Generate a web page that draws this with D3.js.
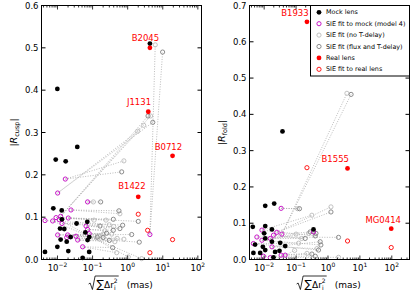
<!DOCTYPE html>
<html lang="en">
<head>
<meta charset="UTF-8">
<title>Flux ratio anomalies</title>
<script src="https://d3js.org/d3.v7.min.js"></script>
<style>
  body { margin: 0; background: #fff; }
  text { font-family: "DejaVu Sans", sans-serif; }
</style>
</head>
<body>
<script>
// ---- cusp panel (left) ----
const cuspMock = [[0.0099,0.403],[0.0366,0.266],[4.3,0.51],[0.0089,0.236],[0.0171,0.232],
  [0.0076,0.121],[0.0132,0.116],[0.0134,0.095],[0.035,0.085],[0.0706,0.089],[0.0118,0.073],
  [0.0156,0.072],[0.062,0.064],[0.0238,0.053],[0.0123,0.047],[0.0183,0.042],[0.072,0.046],
  [0.0805,0.053],[0.0099,0.030],[0.0044,0.018],[0.0203,0.020],[0.080,0.018],[0.052,0.004]]
const cuspModel4 = [[4.3,0.059],[0.0123,0.102],[0.0101,0.157],[0.0167,0.190],[0.072,0.136],
  [0.0242,0.117],[0.0203,0.098],[0.0091,0.099],[0.0044,0.092],[0.0134,0.085],[0.065,0.079],
  [0.072,0.071],[0.0101,0.058],[0.0195,0.058],[0.0336,0.055],[0.0183,0.052],[0.0376,0.046],
  [0.0805,0.061],[0.052,0.030],[0.0112,0.094],[0.0073,0.091]]
// third value = index of the model-4 fit it is joined to
const cuspNoDelay = [[6.1,0.507,0],[4.5,0.339,1],[2.86,0.317,1],[1.93,0.303,2],[0.78,0.233,3],
  [0.105,0.136,4],[0.60,0.108,5],[0.241,0.093,6],[0.11,0.093,7],[0.30,0.082,9],[0.40,0.078,10],
  [0.225,0.068,11],[0.20,0.060,12],[0.15,0.055,13],[0.50,0.050,14],[0.78,0.048,15],
  [0.43,0.042,16],[0.35,0.060,17],[0.485,0.016,18],[1.04,0.006,19],[2.5,0.002,20]]
const cuspFluxDelay = [[9.9,0.49,0],[3.8,0.339,1],[5.2,0.324,2],[0.674,0.207,3],[0.17,0.136,4],
  [0.565,0.115,5],[2.0,0.090,6],[0.39,0.095,7],[0.72,0.081,8],[0.163,0.079,9],[0.60,0.073,10],
  [0.39,0.069,11],[1.3,0.059,12],[0.20,0.052,13],[0.136,0.053,14],[2.14,0.041,15],
  [0.30,0.045,16],[0.25,0.062,17],[0.373,0.028,18]]
const cuspReal = [[4.3,0.50],[3.86,0.349],[19,0.245],[2.0,0.148]]
const cuspRealFit = [[2.0,0.107],[3.7,0.069],[19,0.047],[4.3,0.016]]
// name, label centre (data coords)
const cuspNames = [['B2045',3.21,0.523],['J1131',2.10,0.372],['B0712',14.5,0.266],['B1422',1.32,0.173]]

// ---- fold panel (right) ----
const foldMock = [[0.0375,0.353],[0.0108,0.148],[0.0206,0.154],[0.0044,0.090],[0.0108,0.092],
  [0.0175,0.083],[0.010,0.072],[0.0052,0.041],[0.0108,0.058],[0.0175,0.049],[0.0318,0.046],
  [0.0456,0.037],[0.0046,0.018],[0.0075,0.018],[0.0108,0.026],[0.022,0.021],[0.0302,0.024],
  [0.0196,0.006],[0.352,0.083],[0.0091,0.035]]
const foldModel4 = [[0.036,0.070],[0.034,0.141],[0.025,0.075],[0.0059,0.062],[0.0175,0.035],
  [0.0085,0.081],[0.0155,0.058],[0.0196,0.067],[0.0046,0.044],[0.0095,0.009],[0.0155,0.005],
  [0.034,0.012],[0.0085,0.053],[0.352,0.076],[0.0456,0.012]]
const foldNoDelay = [[3.92,0.458,0],[0.111,0.140,1],[1.24,0.145,2],[0.313,0.122,5],
  [0.22,0.017,11],[2.14,0.006,10],[0.15,0.058,7],[0.25,0.072,12],[0.12,0.045,8],
  [0.45,0.030,4],[0.09,0.025,14],[0.10,0.070,6]]
const foldFluxDelay = [[5.3,0.455,0],[0.128,0.140,1],[1.24,0.131,2],[2.14,0.061,3],
  [0.57,0.049,4],[0.40,0.065,5],[0.277,0.076,7],[0.193,0.058,6],[0.505,0.026,8],
  [0.40,0.009,9],[0.313,0.015,11],[0.42,0.072,13],[0.6,0.040,12]]
const foldReal = [[0.219,0.655],[4.1,0.251],[96,0.085]]
const foldRealFit = [[0.219,0.253],[4.1,0.051],[96,0.033]]
const foldNames = [['B1933',0.092,0.678],['B1555',1.69,0.276],['MG0414',53.8,0.108]]

const legendLabels = ['Mock lens', 'SIE fit to mock (model 4)', 'SIE fit (no T-delay)',
  'SIE fit (flux and T-delay)', 'Real lens', 'SIE fit to real lens']

const MAG = '#c000c0', LIGHT = '#bbbbbb', DARK = '#808080', RED = '#ff0000'

const svg = d3.select('body').append('svg')
  .attr('width', 419).attr('height', 296)

function drawPanel(p) {
  const g = svg.append('g')
  const x = d3.scaleLog().domain(p.xdom).range([p.left, p.left + 160])
  const y = d3.scaleLinear().domain([0, p.ymax]).range([259.5, 5.5])

  // dotted links between fits of the same mock
  const links = p.noDelay.concat(p.fluxDelay)
  g.selectAll('line.link').data(links).enter().append('line')
    .attr('x1', d => x(p.model4[d[2]][0])).attr('y1', d => y(p.model4[d[2]][1]))
    .attr('x2', d => x(d[0])).attr('y2', d => y(d[1]))
    .attr('stroke', '#aaa').attr('stroke-width', 0.8).attr('stroke-dasharray', '1,1.5')

  const open = (data, col) => g.append('g').selectAll('circle').data(data).enter().append('circle')
    .attr('cx', d => x(d[0])).attr('cy', d => y(d[1])).attr('r', 2.1)
    .attr('fill', 'none').attr('stroke', col).attr('stroke-width', 0.9)
  const filled = (data, col) => g.append('g').selectAll('circle').data(data).enter().append('circle')
    .attr('cx', d => x(d[0])).attr('cy', d => y(d[1])).attr('r', 2.4).attr('fill', col)

  open(p.noDelay, LIGHT)
  open(p.fluxDelay, DARK)
  open(p.model4, MAG)
  filled(p.mock, '#000')
  open(p.realFit, RED)
  filled(p.real, RED)

  g.selectAll('text.name').data(p.names).enter().append('text')
    .attr('x', d => x(d[1])).attr('y', d => y(d[2]))
    .attr('text-anchor', 'middle').attr('dominant-baseline', 'central')
    .attr('font-size', 8.5).attr('fill', RED).text(d => d[0])

  // frame
  g.append('rect').attr('x', p.left).attr('y', 5.5).attr('width', 160).attr('height', 254)
    .attr('fill', 'none').attr('stroke', '#000').attr('stroke-width', 1)

  // y ticks
  const yt = d3.range(0, p.ymax + 0.001, 0.1)
  yt.forEach(v => {
    const yy = y(v)
    g.append('line').attr('x1', p.left).attr('x2', p.left + 4).attr('y1', yy).attr('y2', yy).attr('stroke', '#000')
    g.append('line').attr('x1', p.left + 160).attr('x2', p.left + 156).attr('y1', yy).attr('y2', yy).attr('stroke', '#000')
    g.append('text').attr('x', p.left - 3).attr('y', yy).attr('text-anchor', 'end')
      .attr('dominant-baseline', 'central').attr('font-size', 8.5).text(d3.format('.1f')(v))
  })

  // x ticks (log)
  const lo = Math.floor(Math.log10(p.xdom[0])), hi = Math.ceil(Math.log10(p.xdom[1]))
  for (let k = lo; k <= hi; k++) {
    for (let m = 1; m < 10; m++) {
      const v = m * Math.pow(10, k)
      if (v < p.xdom[0] || v > p.xdom[1]) continue
      const xx = x(v), len = m === 1 ? 4 : 2
      g.append('line').attr('x1', xx).attr('x2', xx).attr('y1', 259.5).attr('y2', 259.5 - len).attr('stroke', '#000').attr('stroke-width', 0.8)
      g.append('line').attr('x1', xx).attr('x2', xx).attr('y1', 5.5).attr('y2', 5.5 + len).attr('stroke', '#000').attr('stroke-width', 0.8)
      if (m === 1) {
        const t = g.append('text').attr('y', 271).attr('font-size', 8.5).attr('text-anchor', 'middle')
        t.append('tspan').text('10')
        t.append('tspan').attr('font-size', 6).attr('dy', -4).text(String(k).replace('-', '\u2212'))
        t.attr('x', xx)
      }
    }
  }

  // y label
  const yl = svg.append('text').attr('transform', `translate(${p.left - 25},132.5) rotate(-90)`)
    .attr('text-anchor', 'middle').attr('font-size', 9.5)
  yl.append('tspan').text('|')
  yl.append('tspan').attr('font-style', 'italic').text('R')
  yl.append('tspan').attr('font-size', 6.5).attr('dy', 2).text(p.sub)
  yl.append('tspan').attr('dy', -2).text('|')

  // x label with a radical
  const cx = p.left + 80, by = 288
  const xl = svg.append('text').attr('y', by).attr('font-size', 9)
  xl.append('tspan').attr('font-size', 11).text('\u2211')
  xl.append('tspan').text('\u0394r')
  xl.append('tspan').attr('font-size', 6).attr('dy', 2).text('i')
  xl.append('tspan').attr('font-size', 6).attr('dy', -7).attr('dx', -1.7).text('2')
  xl.append('tspan').attr('dy', 5).text('\u2003(mas)')
  const w = xl.node().getComputedTextLength() + 8
  const x0 = cx - w / 2
  xl.attr('x', x0 + 8)
  const innerEnd = xl.node().getEndPositionOfChar(4).x + 1
  svg.append('path')
    .attr('d', `M${x0},${by - 4} L${x0 + 1.5},${by - 5} L${x0 + 3.8},${by + 1.5} L${x0 + 6.5},${by - 12} L${innerEnd},${by - 12}`)
    .attr('fill', 'none').attr('stroke', '#000').attr('stroke-width', 0.8)
}

drawPanel({ left: 41.5, xdom: [0.0035, 127], ymax: 0.6, sub: 'cusp',
  mock: cuspMock, model4: cuspModel4, noDelay: cuspNoDelay, fluxDelay: cuspFluxDelay,
  real: cuspReal, realFit: cuspRealFit, names: cuspNames })
drawPanel({ left: 249.5, xdom: [0.00347, 359], ymax: 0.7, sub: 'fold',
  mock: foldMock, model4: foldModel4, noDelay: foldNoDelay, fluxDelay: foldFluxDelay,
  real: foldReal, realFit: foldRealFit, names: foldNames })

// legend in the fold panel
const lg = svg.append('g')
lg.append('rect').attr('x', 310.5).attr('y', 5.5).attr('width', 99).attr('height', 70.5)
  .attr('fill', '#fff').attr('stroke', '#000').attr('stroke-width', 1)
const styles = [['#000', true], [MAG, false], [LIGHT, false], [DARK, false], [RED, true], [RED, false]]
legendLabels.forEach((lab, i) => {
  const yy = 12.3 + i * 11.4
  const c = lg.append('circle').attr('cx', 319).attr('cy', yy)
  if (styles[i][1]) c.attr('r', 2.4).attr('fill', styles[i][0])
  else c.attr('r', 2.1).attr('fill', 'none').attr('stroke', styles[i][0]).attr('stroke-width', 0.9)
  lg.append('text').attr('x', 326).attr('y', yy).attr('dominant-baseline', 'central')
    .attr('font-size', 6.4).text(lab)
})
</script>
</body>
</html>
